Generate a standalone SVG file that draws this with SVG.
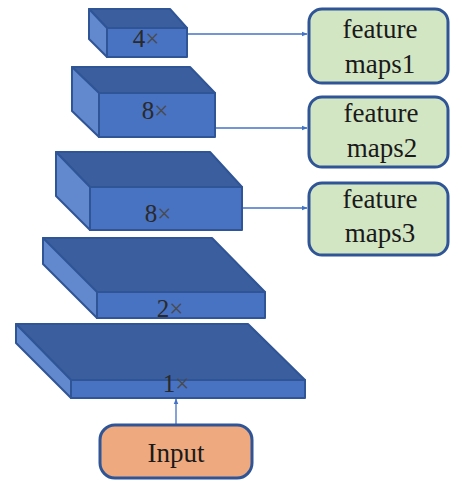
<svg xmlns="http://www.w3.org/2000/svg" width="451" height="481" viewBox="0 0 451 481">
<style>
.top{fill:#3B5E9F;stroke:#2F5597;stroke-width:2;stroke-linejoin:round}
.front{fill:#4872C2;stroke:#2F5597;stroke-width:2;stroke-linejoin:round}
.side{fill:#6288CE;stroke:#2F5597;stroke-width:2;stroke-linejoin:round}
.x{fill:#4a4a4a}
.fm{fill:#D3E6C4;stroke:#2F5597;stroke-width:3}
.conn{stroke:#4472C4;stroke-width:1.3;fill:none;marker-end:url(#ah)}
</style>
<defs>
<marker id="ah" viewBox="0 0 10 10" refX="9" refY="5" markerWidth="6" markerHeight="6" orient="auto" markerUnits="userSpaceOnUse">
<path d="M0,1 L10,5 L0,9 z" fill="#4472C4"/>
</marker>
</defs>
<rect width="451" height="481" fill="#ffffff"/>

<g id="connectors">
<line class="conn" x1="187" y1="34" x2="307" y2="34"/>
<line class="conn" x1="215" y1="128" x2="307" y2="128"/>
<line class="conn" x1="242" y1="208" x2="307" y2="208"/>
<line class="conn" x1="176" y1="425" x2="176" y2="399"/>
</g>

<g id="block5">
<polygon class="top" points="16,324 248,324 305,380 71,380"/>
<polygon class="side" points="16,324 71,380 71,398 16,343"/>
<rect class="front" x="71" y="380" width="234" height="18"/>
<text x="176" y="392" font-family="Liberation Serif" font-size="25" fill="#2a2a2a" text-anchor="middle">1<tspan class="x">×</tspan></text>
</g>

<g id="block4">
<polygon class="top" points="43,238 212,238 265,292 97,292"/>
<polygon class="side" points="43,238 97,292 97,318 43,264"/>
<rect class="front" x="97" y="292" width="168" height="26"/>
<text x="170" y="317" font-family="Liberation Serif" font-size="25" fill="#2a2a2a" text-anchor="middle">2<tspan class="x">×</tspan></text>
</g>

<g id="block3">
<polygon class="top" points="56,152 210,152 242,187 90,187"/>
<polygon class="side" points="56,152 90,187 90,230 56,196"/>
<rect class="front" x="90" y="187" width="152" height="43"/>
<text x="158" y="222" font-family="Liberation Serif" font-size="25" fill="#2a2a2a" text-anchor="middle">8<tspan class="x">×</tspan></text>
</g>

<g id="block2">
<polygon class="top" points="72,67 190,67 215,93 99,93"/>
<polygon class="side" points="72,67 99,93 99,137 72,111"/>
<rect class="front" x="99" y="93" width="116" height="44"/>
<text x="155" y="119" font-family="Liberation Serif" font-size="25" fill="#2a2a2a" text-anchor="middle">8<tspan class="x">×</tspan></text>
</g>

<g id="block1">
<polygon class="top" points="89,9 170,9 187,28 107,28"/>
<polygon class="side" points="89,9 107,28 107,57 89,39"/>
<rect class="front" x="107" y="28" width="80" height="29"/>
<text x="146" y="47" font-family="Liberation Serif" font-size="25" fill="#2a2a2a" text-anchor="middle">4<tspan class="x">×</tspan></text>
</g>

<g id="fm1">
<rect class="fm" x="309" y="9" width="139" height="74" rx="13"/>
<text x="380" y="38" font-family="Liberation Serif" font-size="27" fill="#1a1a1a" text-anchor="middle">feature</text>
<text x="380" y="73" font-family="Liberation Serif" font-size="27" fill="#1a1a1a" text-anchor="middle">maps1</text>
</g>
<g id="fm2">
<rect class="fm" x="309" y="97" width="139" height="70" rx="13"/>
<text x="381" y="122" font-family="Liberation Serif" font-size="27" fill="#1a1a1a" text-anchor="middle">feature</text>
<text x="382" y="157" font-family="Liberation Serif" font-size="27" fill="#1a1a1a" text-anchor="middle">maps2</text>
</g>
<g id="fm3">
<rect class="fm" x="309" y="183" width="139" height="72" rx="13"/>
<text x="380" y="208" font-family="Liberation Serif" font-size="27" fill="#1a1a1a" text-anchor="middle">feature</text>
<text x="380" y="242" font-family="Liberation Serif" font-size="27" fill="#1a1a1a" text-anchor="middle">maps3</text>
</g>

<g id="input">
<rect x="100" y="425" width="152" height="53" rx="15" fill="#EEA97E" stroke="#2F5597" stroke-width="3"/>
<text x="176" y="462" font-family="Liberation Serif" font-size="27" fill="#1a1a1a" text-anchor="middle">Input</text>
</g>
</svg>
